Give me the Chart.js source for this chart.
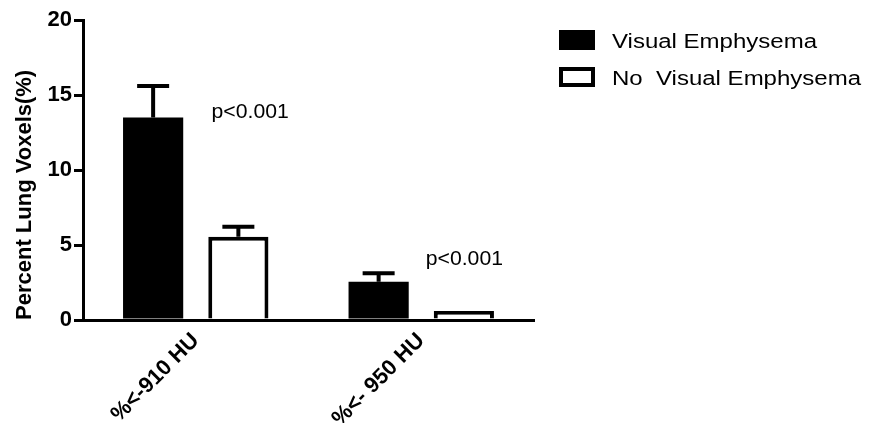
<!DOCTYPE html>
<html>
<head>
<meta charset="utf-8">
<script src="https://cdn.jsdelivr.net/npm/chart.js@4"></script>
<style>
html, body { margin: 0; padding: 0; background: #fff; }
#wrap { width: 869px; height: 423px; }
</style>
</head>
<body>
<div id="wrap"><canvas id="chart"></canvas></div>
<script>
const categories = ['%<-910 HU', '%<- 950 HU']
const seriesNames = ['Visual Emphysema', 'No  Visual Emphysema']
const visualMeans = [13.5, 2.55]
const visualErrors = [2.1, 0.56]
const noVisualMeans = [5.55, 0.6]
const noVisualErrors = [0.67, 0]
const yTicks = [0, 5, 10, 15, 20]
const pTexts = ['p<0.001', 'p<0.001']
const pAtCategory = [0.07, 1.02]
const pAtValue = [13.45, 3.65]

const fontName = '"Liberation Sans", Arial, sans-serif'

// stretched text, the original figure uses a wide sans
function wideText(ctx, text, x, y, size, sx) {
    ctx.save()
    ctx.font = size + 'px ' + fontName
    ctx.fillStyle = '#000'
    ctx.textBaseline = 'alphabetic'
    ctx.textAlign = 'left'
    ctx.translate(x, y)
    ctx.scale(sx, 1)
    ctx.fillText(text, 0, 0)
    ctx.restore()
}

// one-sided (upper) error bars like the original
const errorBars = {
    id: 'errorBars',
    afterDatasetsDraw(chart) {
        const ctx = chart.ctx
        const y = chart.scales.y
        chart.data.datasets.forEach((ds, i) => {
            chart.getDatasetMeta(i).data.forEach((bar, j) => {
                const err = ds.errors[j]
                if (!err) return
                const top = y.getPixelForValue(ds.data[j] + err)
                ctx.save()
                ctx.strokeStyle = '#000'
                ctx.lineWidth = 4
                ctx.beginPath()
                ctx.moveTo(bar.x, bar.y)
                ctx.lineTo(bar.x, top)
                ctx.moveTo(bar.x - 16, top)
                ctx.lineTo(bar.x + 16, top)
                ctx.stroke()
                ctx.restore()
            })
        })
    }
}

const pNotes = {
    id: 'pNotes',
    afterDraw(chart) {
        const x = chart.scales.x
        const y = chart.scales.y
        pTexts.forEach((t, i) => {
            wideText(chart.ctx, t, x.getPixelForValue(pAtCategory[i]), y.getPixelForValue(pAtValue[i]), 20, 1.06)
        })
    }
}

const sideLegend = {
    id: 'sideLegend',
    afterDraw(chart) {
        const ctx = chart.ctx
        chart.data.datasets.forEach((ds, i) => {
            const top = 30 + i * 37
            ctx.save()
            ctx.fillStyle = ds.backgroundColor
            ctx.fillRect(559, top, 36, 20)
            ctx.strokeStyle = '#000'
            ctx.lineWidth = 4
            ctx.strokeRect(561, top + 2, 32, 16)
            ctx.restore()
            wideText(ctx, ds.label, 612, top + 18, 20, 1.2)
        })
    }
}

const barData = {
    labels: categories,
    datasets: [{
        label: seriesNames[0],
        data: visualMeans,
        errors: visualErrors,
        backgroundColor: '#000',
        borderWidth: 0,
    }, {
        label: seriesNames[1],
        data: noVisualMeans,
        errors: noVisualErrors,
        backgroundColor: '#fff',
        borderColor: '#000',
        borderWidth: 4,
    }]
}

const tickFont = { family: fontName, size: 22, weight: 'bold' }

const barConfig = {
    type: 'bar',
    data: barData,
    plugins: [errorBars, pNotes, sideLegend],
    options: {
        responsive: true,
        maintainAspectRatio: false,
        animation: false,
        layout: { padding: { top: 20, right: 335, bottom: 0, left: 0 } },
        datasets: {
            bar: {
                barPercentage: 0.706,
                categoryPercentage: 0.756,
            }
        },
        plugins: {
            legend: { display: false },
            tooltip: { enabled: false },
        },
        scales: {
            x: {
                offset: true,
                afterFit: s => { s.height = 103 },
                border: { color: '#000', width: 3 },
                grid: { display: false },
                ticks: { color: '#000', font: tickFont, minRotation: 45, maxRotation: 45, padding: 0, autoSkip: false },
            },
            y: {
                min: 0,
                max: 20,
                afterFit: s => { s.width = 83 },
                afterBuildTicks: s => { s.ticks = yTicks.map(v => ({ value: v })) },
                border: { color: '#000', width: 3 },
                grid: { drawOnChartArea: false, color: '#000', lineWidth: 3, tickLength: 9 },
                ticks: { color: '#000', font: tickFont, padding: 2 },
                title: {
                    display: true,
                    text: 'Percent Lung Voxels(%)',
                    align: 'start',
                    color: '#000',
                    font: { family: fontName, size: 22, weight: 'bold' },
                    padding: { top: 12, bottom: 0 },
                },
            },
        },
    },
}

const barChart = new Chart(
    document.getElementById('chart'),
    barConfig
)
</script>
</body>
</html>
